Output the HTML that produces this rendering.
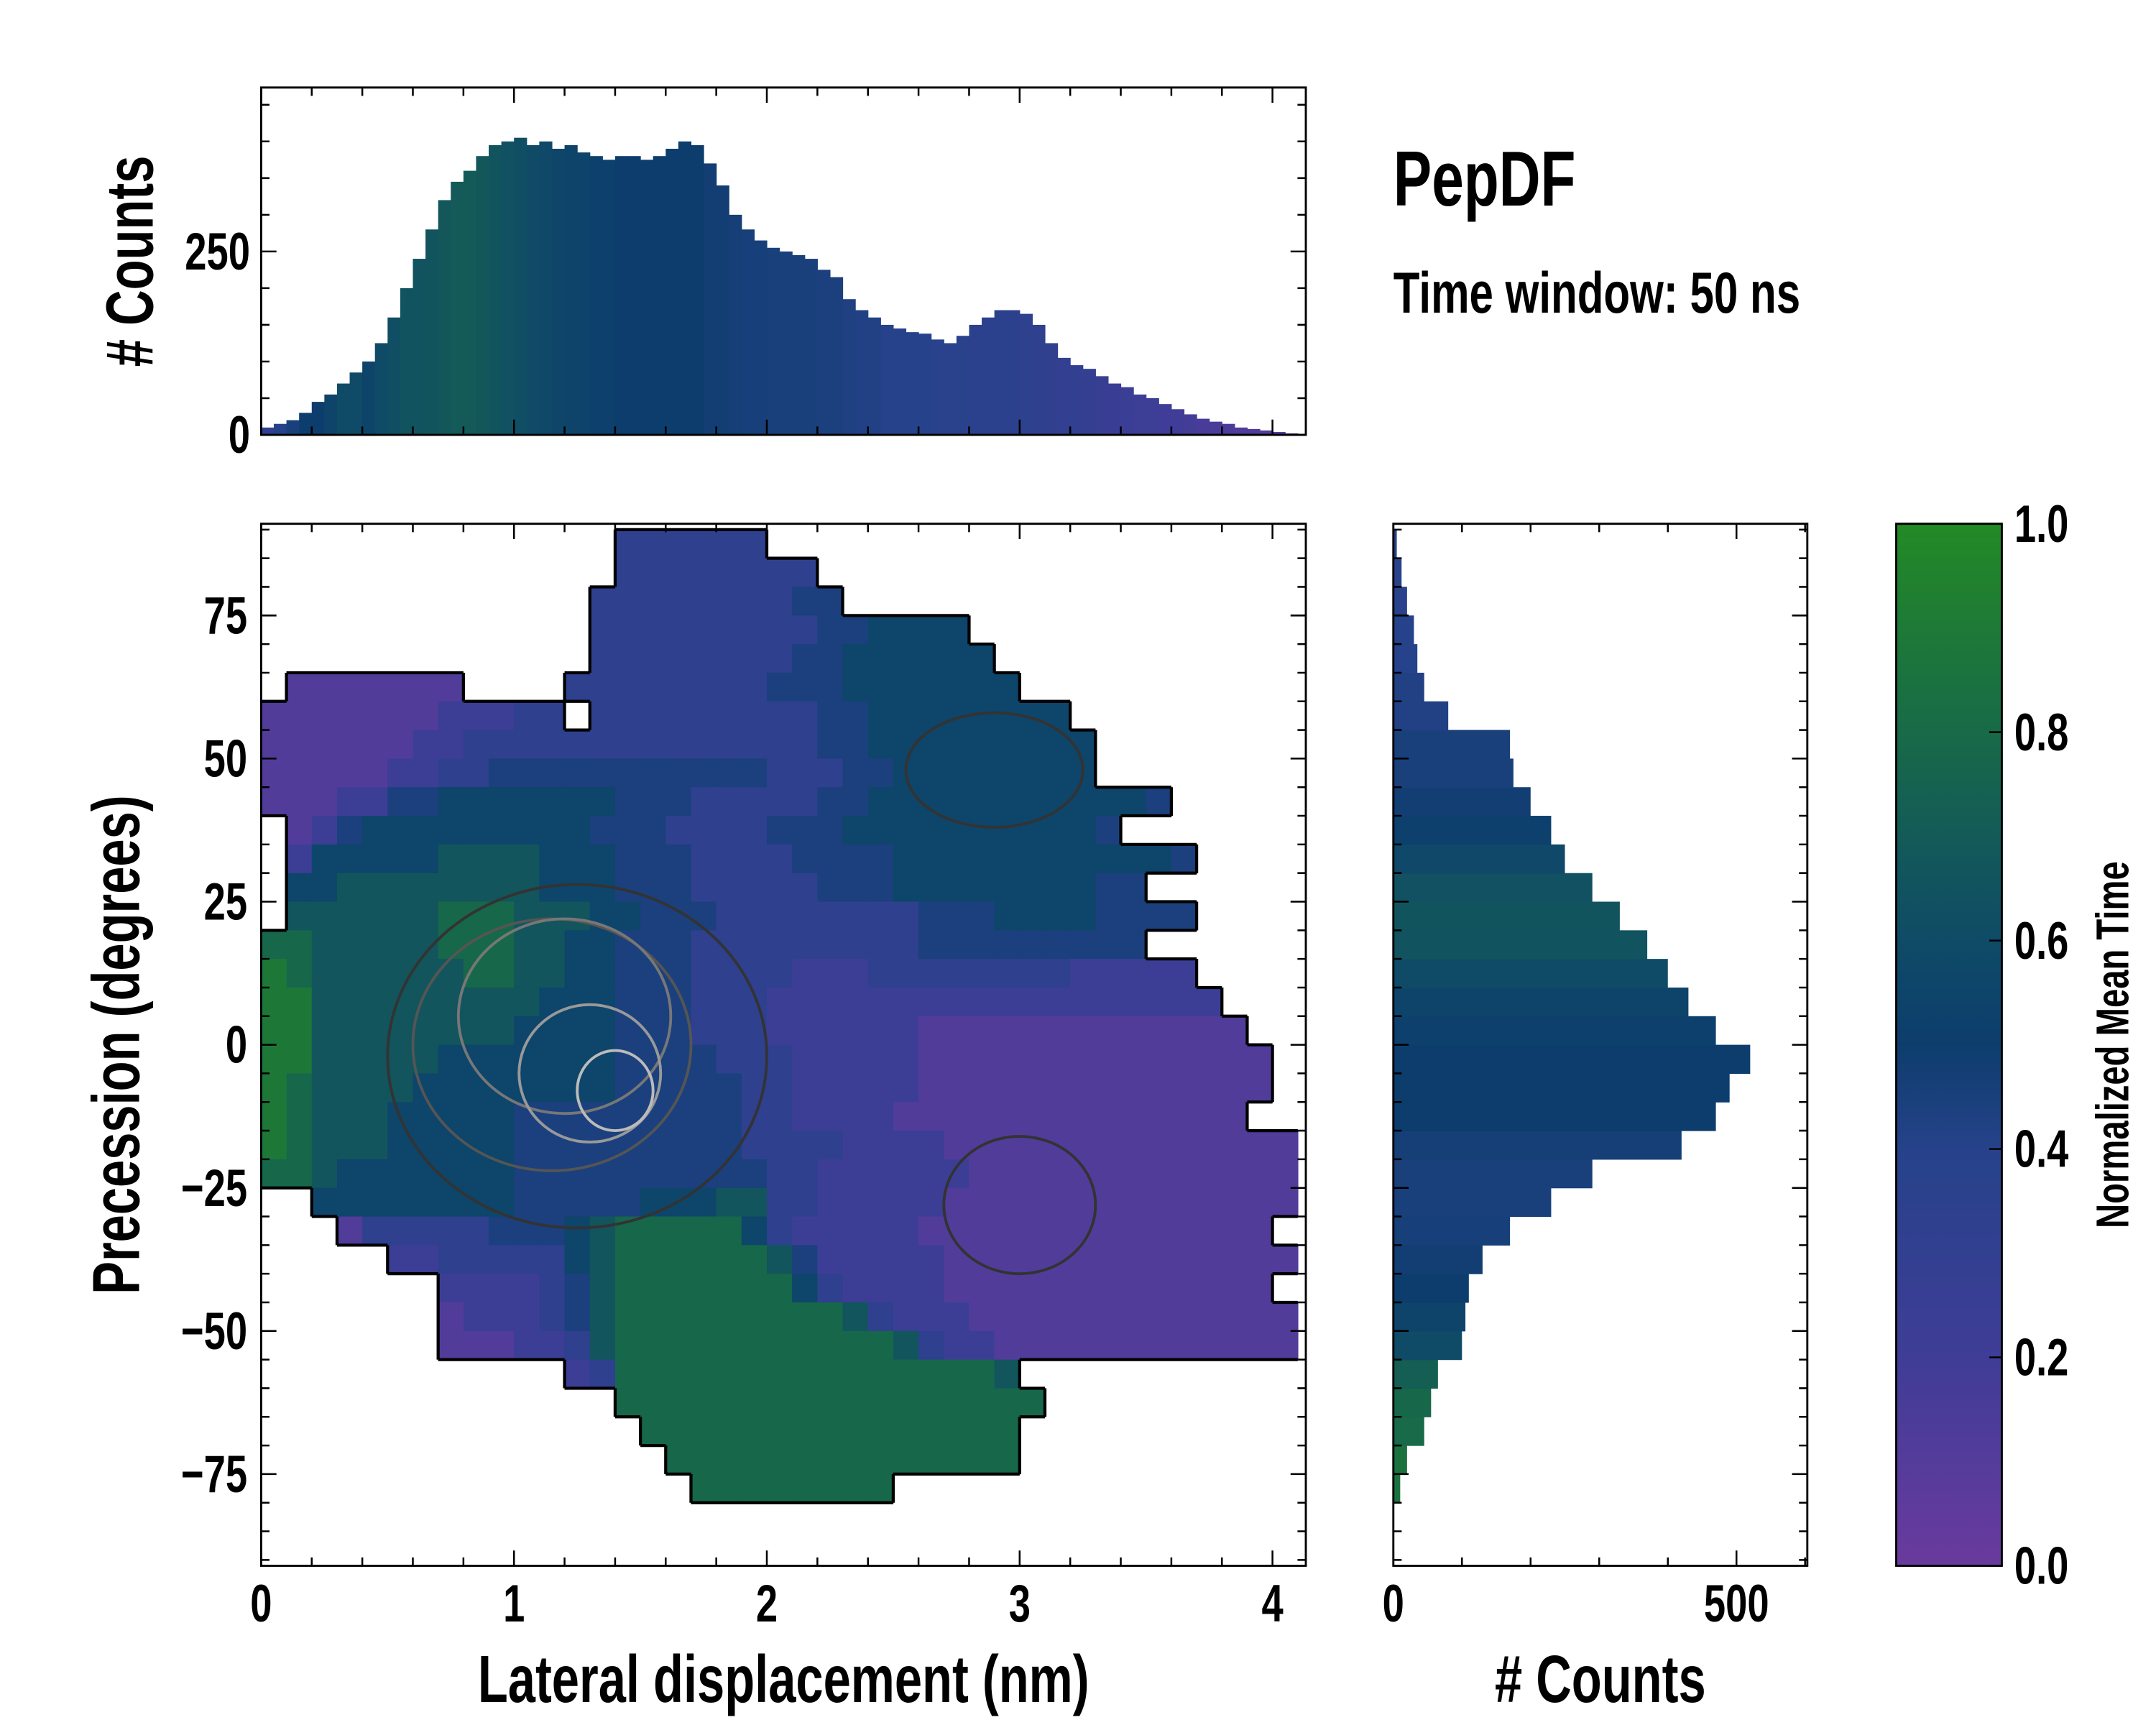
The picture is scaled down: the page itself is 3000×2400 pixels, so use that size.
<!DOCTYPE html>
<html><head><meta charset="utf-8">
<style>
html,body{margin:0;padding:0;background:#fff;}
svg{display:block;}
text{font-family:"Liberation Sans",sans-serif;fill:#000;}
</style></head>
<body>
<svg id="fig" xmlns="http://www.w3.org/2000/svg" width="3000" height="2400" viewBox="0 0 1552 1241.6">
<defs>
<linearGradient id="cbgrad" x1="0" y1="1" x2="0" y2="0">
<stop offset="0" stop-color="#6a3a9e"/><stop offset="0.2" stop-color="#3f3d97"/><stop offset="0.4" stop-color="#26428a"/><stop offset="0.5" stop-color="#0d3d6d"/><stop offset="0.6" stop-color="#0f4b67"/><stop offset="0.8" stop-color="#186a48"/><stop offset="1" stop-color="#238a25"/>
</linearGradient>
</defs>
<g id="layer"></g>
</svg>
<script>
// ---- data ----
const topHistValues = [10,15,20,30,45,55,70,85,100,125,160,200,240,280,320,345,360,380,395,400,405,395,400,390,395,385,380,375,380,380,375,380,390,400,395,370,340,300,280,265,255,250,245,240,225,215,185,170,160,150,145,140,138,130,125,135,150,160,170,170,165,150,125,105,95,90,80,70,65,55,50,42,35,28,22,18,15,10,8,6,4,2];
const topHistTimes = [0.3,0.4,0.45,0.5,0.5,0.55,0.6,0.6,0.55,0.6,0.62,0.65,0.65,0.66,0.68,0.7,0.7,0.68,0.66,0.64,0.62,0.6,0.58,0.56,0.55,0.54,0.52,0.52,0.5,0.5,0.5,0.5,0.5,0.5,0.5,0.48,0.48,0.47,0.46,0.46,0.45,0.45,0.45,0.45,0.44,0.44,0.43,0.42,0.42,0.4,0.4,0.4,0.4,0.38,0.38,0.37,0.36,0.36,0.35,0.35,0.34,0.33,0.32,0.3,0.3,0.28,0.26,0.25,0.24,0.22,0.22,0.2,0.2,0.18,0.16,0.15,0.14,0.12,0.12,0.1,0.1,0.1];
const topBinStart = 0, topBinWidth = 0.05;
const rightHistValues = [10,20,45,55,65,100,105,110,130,170,230,290,420,470,490,520,470,430,400,370,330,290,250,230,200,175,170,80,45,35,30,20,12,5];
const rightHistTimes = [0.85,0.85,0.8,0.78,0.72,0.6,0.55,0.5,0.48,0.46,0.45,0.45,0.47,0.5,0.5,0.5,0.52,0.55,0.6,0.65,0.66,0.64,0.58,0.52,0.48,0.45,0.45,0.42,0.42,0.4,0.4,0.38,0.38,0.38];
const rightBinStart = -80, rightBinWidth = 5;
const xTicks = [0,1,2,3,4];
const yTicks = [-75,-50,-25,0,25,50,75];
const topYTicks = [0,250];
const rightXTicks = [0,500];
const cbTicks = [0,0.2,0.4,0.6,0.8,1.0];
const heatX0 = 0, heatDX = 0.1, heatTopDeg = 90, heatDY = 5;
const heatRows = [
"..............333333.....................",
"..............33333333...................",
".............3333333344..................",
".............333333333445555.............",
".............3333333344555555............",
".1111111....333333334445555555...........",
"111111122233.3333333334455555555.........",
"111111223333333333333344555555555........",
"111112233444444444443334455555555........",
"111224455555554443333344555555555554......",
".124555555555444333344455555555554......",
".255555666655544433334444555555555554......",
".5566666666555444333334445555555544",
".666666777666554443333333344455554444",
"77666667776655444333333333444444444",
"8766666677665544433332223333333322222",
"88666666666555444333222222222222222222",
"886666666655554443332222221111111111111",
"8866666555555544443332222211111111111111",
"8766665555555544444332222211111111111111",
"876665555544444444433222211111111111111",
"87666555554444444443333222211111111111111",
"77655555554444444444332222221111111111111",
"..555555554444455566332222211111111111111",
"...1333334445677777532222211111111111111",
".....223333356777777642222211111111111111",
".......222234677777775322221111111111111",
".......12223467777777776322211111111111111",
".......11122367777777777763221111111111111",
"............237777777777777776",
"..............77777777777777777",
"...............777777777777777",
"................77777777777777",
".................77777777"
];
// ---- helpers ----
const svg = document.getElementById('layer');
const NS = 'http://www.w3.org/2000/svg';
function mk(tag, attrs){const e=document.createElementNS(NS,tag);for(const k in attrs)e.setAttribute(k,attrs[k]);svg.appendChild(e);return e;}
const stops=[[0,[106,58,158]],[0.2,[63,61,151]],[0.4,[38,66,138]],[0.5,[13,61,109]],[0.6,[15,75,103]],[0.8,[24,106,72]],[1,[35,138,37]]];
function cmap(v){v=Math.max(0,Math.min(1,v));for(let i=1;i<stops.length;i++){if(v<=stops[i][0]){const a=stops[i-1],b=stops[i];const t=(v-a[0])/(b[0]-a[0]);const c=a[1].map((x,j)=>Math.round(x+(b[1][j]-x)*t));return 'rgb('+c.join(',')+')';}}return 'rgb(35,138,37)';}
const M={x0:188,x1:940,y0:377,y1:1127};
const xs=v=>M.x0+v*182;
const ys=v=>752-v*4.12;
const T={y0:63,y1:313};
const tys=v=>313-v*0.528;
const R={x0:1003,x1:1301};
const rxs=v=>1003+v*0.494;
const CB={x0:1365,x1:1441,y0:377,y1:1127};
const cbys=v=>CB.y1-v*(CB.y1-CB.y0);
// ---- heatmap ----
const grid=heatRows.map(r=>r.padEnd(41,'.').slice(0,41));
for(let r=0;r<grid.length;r++){for(let c=0;c<41;c++){const ch=grid[r][c];if(ch==='.')continue;
 const xa=xs(heatX0+c*heatDX),xb=xs(heatX0+(c+1)*heatDX);const ya=ys(heatTopDeg-r*heatDY),yb=ys(heatTopDeg-(r+1)*heatDY);
 const e=mk('rect',{x:xa,y:ya,width:Math.min(xb,M.x1)-xa+0.4,height:yb-ya+0.4,fill:cmap(parseInt(ch)/9)});
 
 
}}
let d='';
const filled=(r,c)=>r>=0&&r<grid.length&&c>=0&&c<41&&grid[r][c]!=='.';
for(let r=0;r<grid.length;r++)for(let c=0;c<41;c++){if(!filled(r,c))continue;
 const xa=xs(c*heatDX),xb=xs((c+1)*heatDX),ya=ys(heatTopDeg-r*heatDY),yb=ys(heatTopDeg-(r+1)*heatDY);
 if(!filled(r-1,c))d+=`M${xa},${ya}H${xb}`;
 if(!filled(r+1,c))d+=`M${xa},${yb}H${xb}`;
 if(!filled(r,c-1)&&c>0)d+=`M${xa},${ya}V${yb}`;
 if(!filled(r,c+1)&&c<40)d+=`M${xb},${ya}V${yb}`;}
const oc=mk('path',{d:d,stroke:'#000',fill:'none','stroke-width':2.2});


const contourLevels=[[1.25,-2,0.75,30,'#333'],[1.15,0,0.55,22,'#555'],[1.2,5,0.42,17,'#777'],[1.3,-5,0.28,12,'#999'],[1.4,-8,0.15,7,'#bbb'],[3.0,-28,0.3,12,'#333'],[2.9,48,0.35,10,'#333']];
contourLevels.forEach(l=>{const e=mk('ellipse',{cx:xs(l[0]),cy:ys(l[1]),rx:l[2]*182,ry:l[3]*4.12,fill:'none',stroke:l[4],'stroke-width':2});
 
 });
// ---- top histogram ----
topHistValues.forEach((v,i)=>{const xa=xs(topBinStart+i*topBinWidth),xb=xs(topBinStart+(i+1)*topBinWidth);
 const e=mk('rect',{x:xa,y:tys(v),width:Math.min(xb,M.x1)-xa+0.3,height:tys(0)-tys(v),fill:cmap(topHistTimes[i])});
 
 });
// ---- right histogram ----
rightHistValues.forEach((v,i)=>{const ya=ys(rightBinStart+(i+1)*rightBinWidth),yb=ys(rightBinStart+i*rightBinWidth);
 const e=mk('rect',{x:rxs(0),y:ya,width:rxs(v)-rxs(0),height:yb-ya+0.3,fill:cmap(rightHistTimes[i])});
 
 });
// ---- colorbar ----
const cb=mk('rect',{x:CB.x0,y:CB.y0,width:CB.x1-CB.x0,height:CB.y1-CB.y0,fill:'url(#cbgrad)',stroke:'#000','stroke-width':1.5});


function frame(x0,y0,x1,y1,name){const e=mk('rect',{x:x0,y:y0,width:x1-x0,height:y1-y0,fill:'none',stroke:'#000','stroke-width':1.5});
 
 }
frame(M.x0,M.y0,M.x1,M.y1,'main-axes-frame');
frame(M.x0,T.y0,M.x1,T.y1,'top-hist-frame');
frame(R.x0,M.y0,R.x1,M.y1,'right-hist-frame');
// ---- ticks ----
let tk='';
function hticks(vals,sc,yb,yt,len){vals.forEach(v=>{const x=sc(v);tk+=`M${x},${yb}v${-len}M${x},${yt}v${len}`;});}
function vticks(vals,sc,xl,xr,len){vals.forEach(v=>{const y=sc(v);tk+=`M${xl},${y}h${len}M${xr},${y}h${-len}`;});}
const rng=(a,b,s)=>{const o=[];for(let v=a;v<=b+1e-9;v+=s)o.push(+v.toFixed(4));return o;};
hticks(xTicks,xs,M.y1,M.y0,11);hticks(rng(0,4.1,0.2),xs,M.y1,M.y0,6);
vticks(yTicks,ys,M.x0,M.x1,11);vticks(rng(-90,90,5),ys,M.x0,M.x1,6);
hticks(xTicks,xs,T.y1,T.y0,11);hticks(rng(0,4.1,0.2),xs,T.y1,T.y0,6);
vticks(topYTicks,tys,M.x0,M.x1,11);vticks(rng(0,450,50),tys,M.x0,M.x1,6);
hticks(rightXTicks,rxs,M.y1,M.y0,11);hticks(rng(0,600,100),rxs,M.y1,M.y0,6);
vticks(yTicks,ys,R.x0,R.x1,11);vticks(rng(-90,90,5),ys,R.x0,R.x1,6);
cbTicks.forEach(v=>{tk+=`M${CB.x1},${cbys(v)}h-9`;});
const tkp=mk('path',{d:tk,stroke:'#000','stroke-width':1.3,fill:'none'});


// ---- labels (condensed via horizontal scale) ----
const SQ=0.74;
function txt(s,x,y,size,anchor,name,rot){const e=mk('text',{x:0,y:0,'font-size':size,'text-anchor':anchor,'font-weight':'bold'});
 e.setAttribute('transform',rot?`translate(${x} ${y}) rotate(-90) scale(${SQ} 1)`:`translate(${x} ${y}) scale(${SQ} 1)`);
 e.textContent=s;
 
 return e;}
xTicks.forEach(v=>txt(String(v),xs(v),1167,38,'middle','x-tick-label'));
yTicks.forEach(v=>txt(String(v).replace('-','\u2212'),178,ys(v)+13,38,'end','y-tick-label'));
topYTicks.forEach(v=>txt(String(v),180,tys(v)+13,38,'end','top-y-tick-label'));
rightXTicks.forEach(v=>txt(String(v),rxs(v),1167,38,'middle','right-x-tick-label'));
cbTicks.forEach(v=>txt(v.toFixed(1),1450,cbys(v)+13,38,'start','colorbar-tick-label'));
txt('Lateral displacement (nm)',564,1225,48,'middle','x-axis-title');
txt('# Counts',1152,1225,48,'middle','right-hist-x-title');
txt('Precession (degrees)',100,752,48,'middle','y-axis-title',true);
txt('# Counts',110,188,48,'middle','top-hist-y-title',true);
txt('Normalized Mean Time',1532,752,33,'middle','colorbar-title',true);
txt('PepDF',1003,148,56,'start','title');
txt('Time window: 50 ns',1003,225,42,'start','subtitle');
</script>
</body></html>
